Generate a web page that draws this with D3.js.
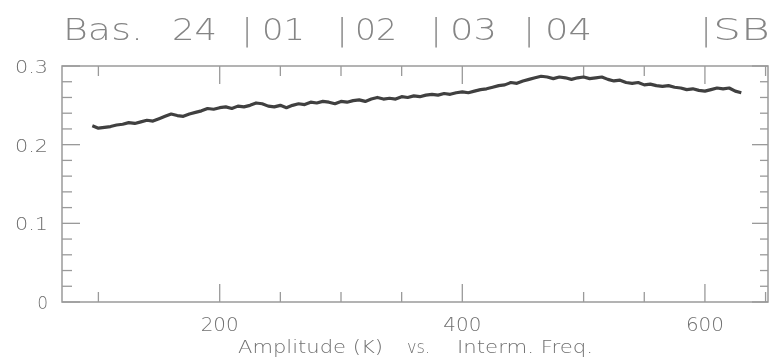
<!DOCTYPE html>
<html>
<head>
<meta charset="utf-8">
<script src="https://cdn.jsdelivr.net/npm/d3@7"></script>
<style>
  html, body { margin: 0; padding: 0; background: #fff; }
  svg { display: block; }
  text { font-family: "DejaVu Sans", sans-serif; font-weight: 200; fill: #707070; }
  .gray { filter: grayscale(100%); }
</style>
</head>
<body>
<svg id="chart" width="774" height="358"></svg>
<script>
// Intermediate frequency channel (x) and amplitude in K (y)
const freq = [95,100,105,110,115,120,125,130,135,140,145,150,155,160,165,170,175,180,185,190,
  195,200,205,210,215,220,225,230,235,240,245,250,255,260,265,270,275,280,285,290,
  295,300,305,310,315,320,325,330,335,340,345,350,355,360,365,370,375,380,385,390,
  395,400,405,410,415,420,425,430,435,440,445,450,455,460,465,470,475,480,485,490,
  495,500,505,510,515,520,525,530,535,540,545,550,555,560,565,570,575,580,585,590,
  595,600,605,610,615,620,625,630];
const amplitude = [0.224,0.221,0.222,0.223,0.225,0.226,0.228,0.227,0.229,0.231,0.230,0.233,0.236,0.239,0.237,0.236,0.239,0.241,0.243,0.246,
  0.245,0.247,0.248,0.246,0.249,0.248,0.250,0.253,0.252,0.249,0.248,0.250,0.247,0.250,0.252,0.251,0.254,0.253,0.255,0.254,
  0.252,0.255,0.254,0.256,0.257,0.255,0.258,0.260,0.258,0.259,0.258,0.261,0.260,0.262,0.261,0.263,0.264,0.263,0.265,0.264,
  0.266,0.267,0.266,0.268,0.270,0.271,0.273,0.275,0.276,0.279,0.278,0.281,0.283,0.285,0.287,0.286,0.284,0.286,0.285,0.283,
  0.285,0.286,0.284,0.285,0.286,0.283,0.281,0.282,0.279,0.278,0.279,0.276,0.277,0.275,0.274,0.275,0.273,0.272,0.270,0.271,
  0.269,0.268,0.270,0.272,0.271,0.272,0.268,0.266];

const xMajorTicks = [200, 400, 600];
const xMinorTicks = [100, 250, 300, 350, 500, 550, 650];
const yMajorTicks = [0, 0.1, 0.2, 0.3];
const yMinorTicks = [0.02,0.04,0.06,0.08,0.12,0.14,0.16,0.18,0.22,0.24,0.26,0.28];
const yTickLabels = ["0", "0.1", "0.2", "0.3"];
const titleParts = ["Bas.", "24", "|", "01", "|", "02", "|", "03", "|", "04", "|", "SB"];
const axisTitleParts = ["Amplitude (K)", "vs.", "Interm. Freq."];

const svg = d3.select("#chart");
const L = 62, R = 768, T = 66, B = 302;

const x = d3.scaleLinear().domain([70, 652]).range([L, R]);
const y = d3.scaleLinear().domain([0, 0.3]).range([B, T]);

const axisColor = "#9a9a9a";

// frame
svg.append("rect")
  .attr("x", L).attr("y", T).attr("width", R - L).attr("height", B - T)
  .attr("fill", "none").attr("stroke", axisColor).attr("stroke-width", 1.5);

const majorLen = 18, minorLen = 10;
const ticks = svg.append("g").attr("stroke", axisColor).attr("stroke-width", 1.3);

function xTicks(vals, len) {
  vals.forEach(v => {
    ticks.append("line").attr("x1", x(v)).attr("x2", x(v)).attr("y1", B).attr("y2", B - len);
    ticks.append("line").attr("x1", x(v)).attr("x2", x(v)).attr("y1", T).attr("y2", T + len);
  });
}
function yTicks(vals, len) {
  vals.forEach(v => {
    ticks.append("line").attr("x1", L).attr("x2", L + len).attr("y1", y(v)).attr("y2", y(v));
    ticks.append("line").attr("x1", R).attr("x2", R - len + 2).attr("y1", y(v)).attr("y2", y(v));
  });
}
xTicks(xMajorTicks, majorLen);
xTicks(xMinorTicks, minorLen);
yTicks(yMajorTicks, majorLen);
yTicks(yMinorTicks, minorLen);

// text layers rendered in neutral gray
const textLayer = svg.append("g").attr("class", "gray");

// tick labels
textLayer.append("g").selectAll("text").data(xMajorTicks).join("text")
  .attr("x", d => x(d)).attr("y", 331)
  .attr("text-anchor", "middle").attr("font-size", 19)
  .attr("textLength", 38).attr("lengthAdjust", "spacingAndGlyphs")
  .text(d => d3.format("d")(d));

textLayer.append("g").selectAll("text").data(yMajorTicks).join("text")
  .attr("x", 48).attr("y", d => y(d) + 7)
  .attr("text-anchor", "end").attr("font-size", 17)
  .each(function(d, i) {
    const t = d3.select(this).text(yTickLabels[i]);
    if (yTickLabels[i].length > 1) t.attr("textLength", 33).attr("lengthAdjust", "spacingAndGlyphs");
  });

// title
const titleX = [63, 172, 242, 262, 337, 355, 431, 450, 524, 545, 701, 713];
const titleW = [80, 45, 0, 43, 0, 42, 0, 47, 0, 47, 0, 57];
textLayer.append("g").selectAll("text").data(titleParts).join("text")
  .attr("x", (d, i) => titleX[i]).attr("y", 40)
  .attr("font-size", 30).style("fill", "#858585")
  .each(function(d, i) {
    const t = d3.select(this).text(d);
    if (titleW[i] > 0) t.attr("textLength", titleW[i]).attr("lengthAdjust", "spacingAndGlyphs");
  });

// axis caption
const capX = [238, 407, 457];
const capW = [145, 23, 136];
textLayer.append("g").selectAll("text").data(axisTitleParts).join("text")
  .attr("x", (d, i) => capX[i]).attr("y", 353)
  .attr("font-size", 18)
  .attr("textLength", (d, i) => capW[i]).attr("lengthAdjust", "spacingAndGlyphs")
  .text(d => d);

// spectrum line
const line = d3.line().x((d, i) => x(freq[i])).y(d => y(d));
svg.append("path")
  .datum(amplitude)
  .attr("d", line)
  .attr("fill", "none")
  .attr("stroke", "#404040")
  .attr("stroke-width", 3.2)
  .attr("stroke-linejoin", "round");
</script>
</body>
</html>
